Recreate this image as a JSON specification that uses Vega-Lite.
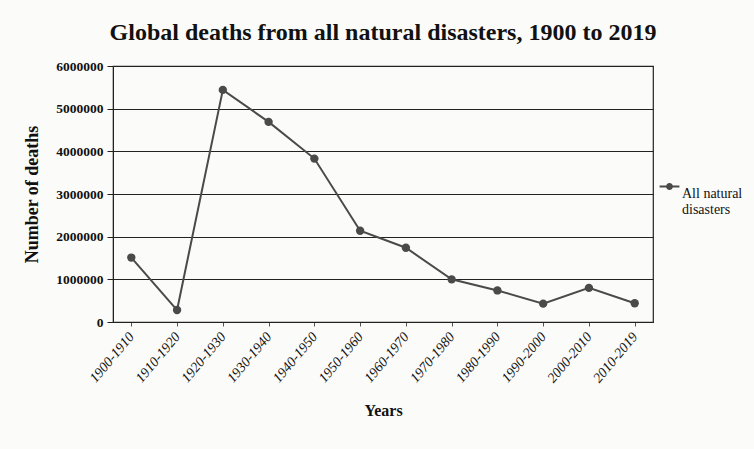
{
  "$schema": "https://vega.github.io/schema/vega-lite/v6.json",
  "autosize": "none",
  "width": 540,
  "height": 256,
  "padding": {"left": 113, "top": 66, "right": 101, "bottom": 127},
  "background": "#fbfbf9",
  "title": {
    "text": "Global deaths from all natural disasters, 1900 to 2019",
    "font": "Liberation Serif",
    "fontSize": 24,
    "fontWeight": "bold",
    "color": "#111111",
    "anchor": "middle",
    "offset": 14
  },
  "config": {
    "font": "Liberation Serif",
    "view": {"stroke": "#222222", "strokeWidth": 1.2}
  },
  "data": {
    "values": [
      {"period": "1900-1910", "deaths": 1510000, "series": "All natural disasters"},
      {"period": "1910-1920", "deaths": 280000, "series": "All natural disasters"},
      {"period": "1920-1930", "deaths": 5440000, "series": "All natural disasters"},
      {"period": "1930-1940", "deaths": 4690000, "series": "All natural disasters"},
      {"period": "1940-1950", "deaths": 3830000, "series": "All natural disasters"},
      {"period": "1950-1960", "deaths": 2140000, "series": "All natural disasters"},
      {"period": "1960-1970", "deaths": 1740000, "series": "All natural disasters"},
      {"period": "1970-1980", "deaths": 1000000, "series": "All natural disasters"},
      {"period": "1980-1990", "deaths": 740000, "series": "All natural disasters"},
      {"period": "1990-2000", "deaths": 430000, "series": "All natural disasters"},
      {"period": "2000-2010", "deaths": 800000, "series": "All natural disasters"},
      {"period": "2010-2019", "deaths": 440000, "series": "All natural disasters"}
    ]
  },
  "encoding": {
    "x": {
      "field": "period",
      "type": "ordinal",
      "sort": null,
      "scale": {"type": "point", "padding": 0.4},
      "axis": {
        "title": "Years",
        "titleFont": "Liberation Serif",
        "titleFontSize": 16,
        "titleFontWeight": "bold",
        "titleColor": "#111111",
        "titlePadding": 18,
        "labelAngle": -50,
        "labelFont": "Liberation Serif",
        "labelFontSize": 14,
        "labelFontStyle": "italic",
        "labelColor": "#111111",
        "labelPadding": 8,
        "domainColor": "#222222",
        "tickColor": "#555555",
        "tickSize": 4,
        "grid": false
      }
    },
    "y": {
      "field": "deaths",
      "type": "quantitative",
      "scale": {"domain": [0, 6000000]},
      "axis": {
        "title": "Number of   deaths",
        "titleFont": "Liberation Serif",
        "titleFontSize": 18,
        "titleFontWeight": "bold",
        "titleColor": "#111111",
        "titlePadding": 14,
        "values": [0, 1000000, 2000000, 3000000, 4000000, 5000000, 6000000],
        "format": "d",
        "labelFont": "Liberation Serif",
        "labelFontSize": 13.5,
        "labelFontWeight": "bold",
        "labelColor": "#111111",
        "labelPadding": 4,
        "domainColor": "#222222",
        "tickColor": "#222222",
        "tickSize": 6,
        "grid": true,
        "gridColor": "#222222",
        "gridWidth": 1.1,
        "gridOpacity": 1
      }
    },
    "color": {
      "field": "series",
      "type": "nominal",
      "scale": {"range": ["#4a4a4a"]},
      "legend": {
        "title": null,
        "orient": "none",
        "legendX": 548,
        "legendY": 112,
        "symbolType": "M-1.4,0L-0.35,0M0.35,0L1.4,0M-0.35,0A0.35,0.35 0 1,1 0.35,0A0.35,0.35 0 1,1 -0.35,0Z",
        "symbolSize": 200,
        "symbolStrokeWidth": 2,
        "symbolFillColor": "#3a3a3a",
        "symbolStrokeColor": "#4a4a4a",
        "labelFont": "Liberation Serif",
        "labelFontSize": 14,
        "labelColor": "#111111",
        "labelExpr": "['All natural', 'disasters']",
        "labelBaseline": "top",
        "labelOffset": 4
      }
    }
  },
  "layer": [
    {
      "mark": {"type": "line", "strokeWidth": 2, "color": "#555555"}
    },
    {
      "mark": {"type": "point", "filled": true, "size": 70, "opacity": 1, "color": "#3a3a3a"}
    }
  ]
}
